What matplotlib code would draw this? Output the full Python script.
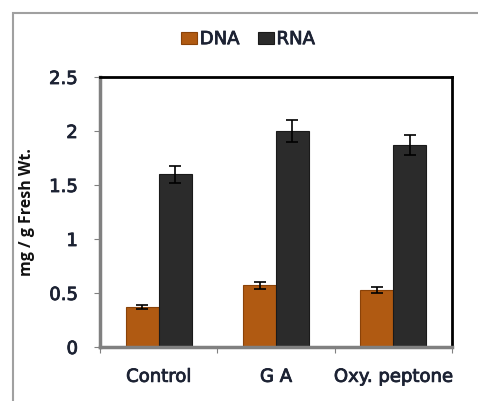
import numpy as np
import matplotlib.pyplot as plt
import matplotlib.patheffects as pe
from matplotlib.patches import Rectangle

plt.rcParams['font.family'] = ['DejaVu Sans']

categories = ['Control', 'G A', 'Oxy. peptone']
dna = [0.37, 0.57, 0.53]
dna_err = [0.02, 0.03, 0.03]
rna = [1.60, 2.00, 1.87]
rna_err = [0.08, 0.10, 0.09]

txt = '#1c2233'
thick = [pe.withStroke(linewidth=0.6, foreground=txt)]

fig = plt.figure(figsize=(4.78, 4.01), dpi=100)
# outer chart-area frame
fig.patches.append(Rectangle((13 / 478, -0.1), 1.2, 1 - 13 / 401 + 0.1,
                             transform=fig.transFigure, fill=False,
                             edgecolor='#a0a0a0', linewidth=1.5))

ax = fig.add_axes([100 / 478, 1 - 347 / 401, 352 / 478, 270 / 401])

x = np.arange(len(categories))
w = 0.28
ax.bar(x - w / 2, dna, w, color='#b05a12', edgecolor='#8a4208', linewidth=0.8,
       yerr=dna_err, capsize=4, error_kw=dict(elinewidth=1.2, capthick=1.2),
       label='DNA')
ax.bar(x + w / 2, rna, w, color='#2b2b2b', edgecolor='#1a1a1a', linewidth=0.8,
       yerr=rna_err, capsize=4, error_kw=dict(elinewidth=1.2, capthick=1.2),
       label='RNA')

ax.set_xlim(-0.5, len(categories) - 0.5)
ax.set_ylim(0, 2.5)
ax.set_yticks([0, 0.5, 1, 1.5, 2, 2.5])
ax.set_yticklabels(['0', '0.5', '1', '1.5', '2', '2.5'])
ax.set_xticks(np.arange(len(categories) + 1) - 0.5)
ax.set_xticklabels([])
ax.set_xticks(x, minor=True)
ax.set_xticklabels(categories, minor=True)
ax.tick_params(axis='x', which='minor', length=0, pad=15, labelsize=13)
ax.tick_params(axis='x', which='major', length=4, color='#808080')
ax.tick_params(axis='y', length=4, color='#808080', labelsize=13, pad=12)
for lab in ax.get_xticklabels(minor=True) + ax.get_yticklabels():
    lab.set_color(txt)
    lab.set_path_effects(thick)

ax.spines['left'].set_color('#808080')
ax.spines['bottom'].set_color('#808080')
ax.spines['left'].set_linewidth(2.5)
ax.spines['bottom'].set_linewidth(2.5)
ax.spines['top'].set_linewidth(2)
ax.spines['right'].set_linewidth(2)

ax.set_ylabel('mg / g Fresh Wt.', fontsize=11.5, fontweight='bold',
              family='Open Sans', color='#111111')
ax.yaxis.set_label_coords(-0.185, 0.5)

leg = ax.legend(loc='lower center', bbox_to_anchor=(0.42, 1.06), ncol=2,
                frameon=False, handlelength=0.9, handleheight=0.7,
                handletextpad=0.15, columnspacing=1.0, borderpad=0.2,
                prop=dict(size=13))
for t in leg.get_texts():
    t.set_color(txt)
    t.set_path_effects(thick)

plt.savefig('out.png', dpi=100)
